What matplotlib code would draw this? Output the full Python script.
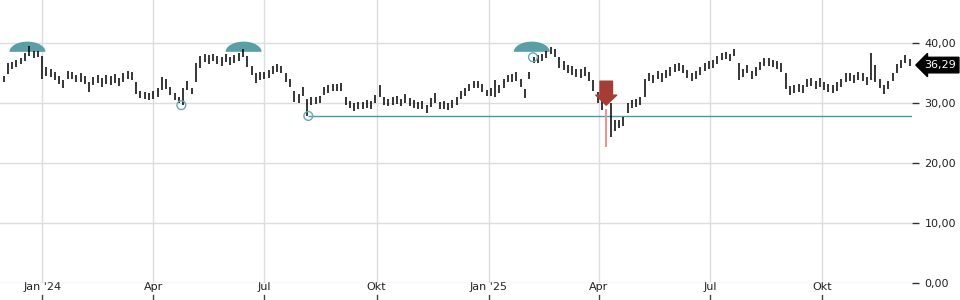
# -*- coding: utf-8 -*-
import numpy as np
import pandas as pd
import matplotlib
matplotlib.use('Agg')
import matplotlib.pyplot as plt
import matplotlib.dates as mdates
from matplotlib.patches import Polygon

# Kursbalken (ca. 2 pro Woche): Tief / Hoch
lo = [33.0, 33.4, 34.8, 35.6, 36.0, 36.4, 37.0, 37.8, 37.5, 37.6,
      34.0, 34.4, 34.3, 33.8, 33.2, 32.5, 34.0, 33.9, 33.4, 33.5,
      33.2, 31.8, 32.9, 33.3, 32.7, 33.1, 33.0, 33.3, 32.8, 33.5,
      34.0, 33.8, 31.5, 30.8, 30.6, 30.5, 30.7, 30.9, 32.2, 32.3,
      31.3, 30.4, 29.9, 29.6, 32.2, 31.4, 33.4, 35.8, 36.8, 36.5,
      36.9, 36.4, 36.2, 36.8, 36.3, 36.6, 36.9, 37.6, 36.0, 34.6,
      33.3, 33.8, 33.9, 34.1, 34.8, 35.1, 34.9, 33.4, 32.6, 30.2,
      30.0, 31.2, 27.8, 29.7, 29.8, 29.9, 31.3, 31.7, 32.0, 31.9,
      32.0, 29.6, 29.1, 28.7, 28.9, 28.9, 29.1, 29.0, 29.9, 31.0,
      29.6, 29.4, 29.7, 29.8, 29.4, 30.0, 29.5, 29.2, 28.9, 29.0,
      28.3, 29.3, 30.0, 29.0, 29.0, 28.8, 29.2, 29.6, 30.6, 31.1,
      31.9, 32.5, 32.4, 31.8, 31.1, 31.2, 31.0, 31.7, 32.5, 33.4,
      33.5, 33.7, 32.6, 30.8, 34.0, 36.6, 36.7, 37.0, 37.4, 38.2,
      37.6, 35.8, 35.5, 34.9, 34.6, 34.3, 34.2, 34.5, 33.6, 32.0,
      30.0, 28.8, 22.6, 24.3, 25.3, 25.8, 26.1, 28.3, 29.2, 29.3,
      29.7, 31.0, 33.6, 33.3, 33.9, 33.5, 34.1, 34.5, 35.2, 35.3,
      34.9, 34.1, 33.6, 33.9, 34.6, 35.3, 35.6, 35.8, 36.5, 37.1,
      37.3, 36.9, 37.8, 33.8, 34.3, 34.9, 33.9, 34.5, 35.5, 36.1,
      36.2, 35.9, 35.6, 35.2, 32.3, 31.3, 31.6, 31.8, 31.6, 32.6,
      32.8, 32.3, 32.7, 32.1, 31.8, 31.7, 32.0, 32.6, 33.5, 33.6,
      33.3, 33.8, 33.6, 32.9, 33.8, 33.5, 32.5, 31.5, 32.3, 33.6,
      35.0, 35.8, 36.6, 36.1]
hi = [34.0, 34.5, 36.6, 36.8, 37.2, 37.5, 38.3, 39.4, 38.7, 38.6,
      37.8, 35.9, 35.6, 35.2, 34.4, 33.8, 35.3, 35.1, 34.7, 34.9,
      34.5, 33.4, 34.3, 34.7, 34.1, 34.6, 34.5, 34.8, 34.2, 35.0,
      35.3, 35.2, 33.5, 32.0, 31.8, 31.6, 31.9, 32.4, 34.3, 33.9,
      32.6, 31.7, 31.0, 32.5, 33.6, 32.5, 36.6, 37.8, 38.1, 37.9,
      38.2, 37.8, 37.7, 38.1, 37.7, 38.0, 38.3, 38.9, 37.8, 36.2,
      35.0, 35.2, 35.1, 35.4, 36.1, 36.4, 36.2, 35.0, 34.0, 32.0,
      31.4, 32.6, 30.6, 30.9, 31.0, 31.2, 32.7, 32.9, 33.2, 33.1,
      33.3, 31.0, 30.3, 29.9, 30.1, 30.2, 30.5, 30.3, 31.3, 33.0,
      31.0, 30.7, 31.0, 31.1, 30.7, 31.4, 30.8, 30.4, 30.1, 30.3,
      29.6, 30.8, 31.6, 30.1, 30.3, 30.0, 30.5, 31.0, 32.0, 32.5,
      33.2, 33.7, 33.6, 33.1, 32.2, 32.5, 33.8, 33.0, 33.9, 34.6,
      34.8, 35.2, 34.0, 32.3, 35.2, 37.7, 37.9, 38.2, 38.6, 39.3,
      38.9, 37.6, 36.9, 36.3, 36.1, 35.7, 35.6, 36.0, 35.1, 33.8,
      31.8, 30.5, 27.5, 30.0, 27.1, 27.2, 27.6, 30.0, 30.5, 30.7,
      31.0, 34.0, 35.0, 34.7, 35.3, 34.9, 35.5, 35.9, 36.5, 36.6,
      36.3, 35.5, 34.9, 35.3, 36.0, 36.6, 36.9, 37.1, 37.8, 38.3,
      38.5, 38.2, 38.9, 36.6, 35.7, 36.3, 35.3, 35.9, 36.8, 37.4,
      37.5, 37.2, 36.9, 36.6, 35.0, 32.8, 33.0, 33.2, 33.0, 34.0,
      34.2, 33.7, 34.1, 33.5, 33.2, 33.0, 33.4, 34.0, 34.9, 35.0,
      34.7, 35.2, 35.0, 34.3, 38.3, 36.3, 33.9, 32.9, 33.7, 35.0,
      36.5, 37.2, 37.9, 37.3]
letzter = 36.29
datum = pd.date_range('2023-11-27', periods=len(hi), freq='84h')

monate = ['2024-01-01', '2024-04-01', '2024-07-01', '2024-10-01',
          '2025-01-01', '2025-04-01', '2025-07-01', '2025-10-01']
monats_labels = ["Jan '24", 'Apr', 'Jul', 'Okt', "Jan '25", 'Apr', 'Jul', 'Okt']
y_ticks = [0, 10, 20, 30, 40]

hochs = ['2023-12-20', '2024-06-14', '2025-02-05']
hoch_niveau = 38.5
tiefs = ['2024-04-24', '2024-08-06', '2025-02-06']
tief_werte = [29.6, 27.8, 37.6]
unterstuetzung_start = '2024-08-06'
unterstuetzung = 27.8
signal = '2025-04-07'
signal_von, signal_bis = 33.6, 29.6
tiefst_datum = datum[142]
tiefst_von, tiefst_bis = 22.6, 29.0

teal = '#5a9ea6'
grid = '#dddddd'

fig = plt.figure(figsize=(9.6, 3), dpi=100)
ax = fig.add_axes([0, 1 - 282.5 / 300, 912 / 960, 282.5 / 300])
ax.set_xlim(pd.Timestamp('2023-11-27 12:00'), pd.Timestamp('2025-12-13 10:00'))
ax.set_ylim(0, 47.15)
for s in ax.spines.values():
    s.set_visible(False)

ax.set_yticks(y_ticks)
ax.set_yticklabels(['{:.2f}'.format(v).replace('.', ',') for v in y_ticks])
ax.yaxis.tick_right()
ax.tick_params(axis='y', length=5, width=1, color='#333333', pad=4,
               labelsize=8, labelcolor='#222222')
ax.set_xticks(pd.to_datetime(monate))
ax.set_xticklabels(monats_labels, family=['Liberation Sans Narrow', 'DejaVu Sans'],
                   fontsize=8, color='#222222')
ax.tick_params(axis='x', length=0, pad=0)
ax.grid(True, color=grid, lw=1)
ax.set_axisbelow(True)

# kleine Striche unter den Monatsnamen
trans = ax.get_xaxis_transform()
for m in pd.to_datetime(monate):
    ax.plot([m, m], [-0.046, -0.06], transform=trans, color='#444444', lw=1,
            clip_on=False)

# Hoch-Markierungen (Halbkreise)
t = np.linspace(0, np.pi, 40)
for h in hochs:
    cx = mdates.date2num(pd.Timestamp(h))
    pts = np.column_stack([cx + 14.7 * np.cos(t), hoch_niveau + 1.7 * np.sin(t)])
    ax.add_patch(Polygon(pts, closed=True, color=teal, lw=0, zorder=2))

ax.hlines(unterstuetzung, pd.Timestamp(unterstuetzung_start), ax.get_xlim()[1],
          color='#4a9aa2', lw=1, zorder=2)

ax.vlines(datum, lo, hi, color='black', lw=1.1, zorder=3)
ax.vlines(tiefst_datum, tiefst_von, tiefst_bis, color='#e39a94', lw=1.5, zorder=3)

ax.scatter(pd.to_datetime(tiefs), tief_werte, s=40, facecolors='none',
           edgecolors='#6aaab2', linewidths=1, zorder=4)

ax.annotate('', xy=(pd.Timestamp(signal), signal_bis),
            xytext=(pd.Timestamp(signal), signal_von),
            arrowprops=dict(arrowstyle='simple,head_width=1.25,head_length=0.6,tail_width=0.75',
                            color='#a53d36', shrinkA=0, shrinkB=0, mutation_scale=12),
            zorder=5)

ax.text(1.031, letzter, '{:.2f}'.format(letzter).replace('.', ','),
        transform=ax.get_yaxis_transform(), ha='center', va='center',
        fontsize=8, color='white', clip_on=False,
        bbox=dict(boxstyle='larrow,pad=0.25', fc='black', ec='black'))

fig.savefig('out.png', dpi=100)
